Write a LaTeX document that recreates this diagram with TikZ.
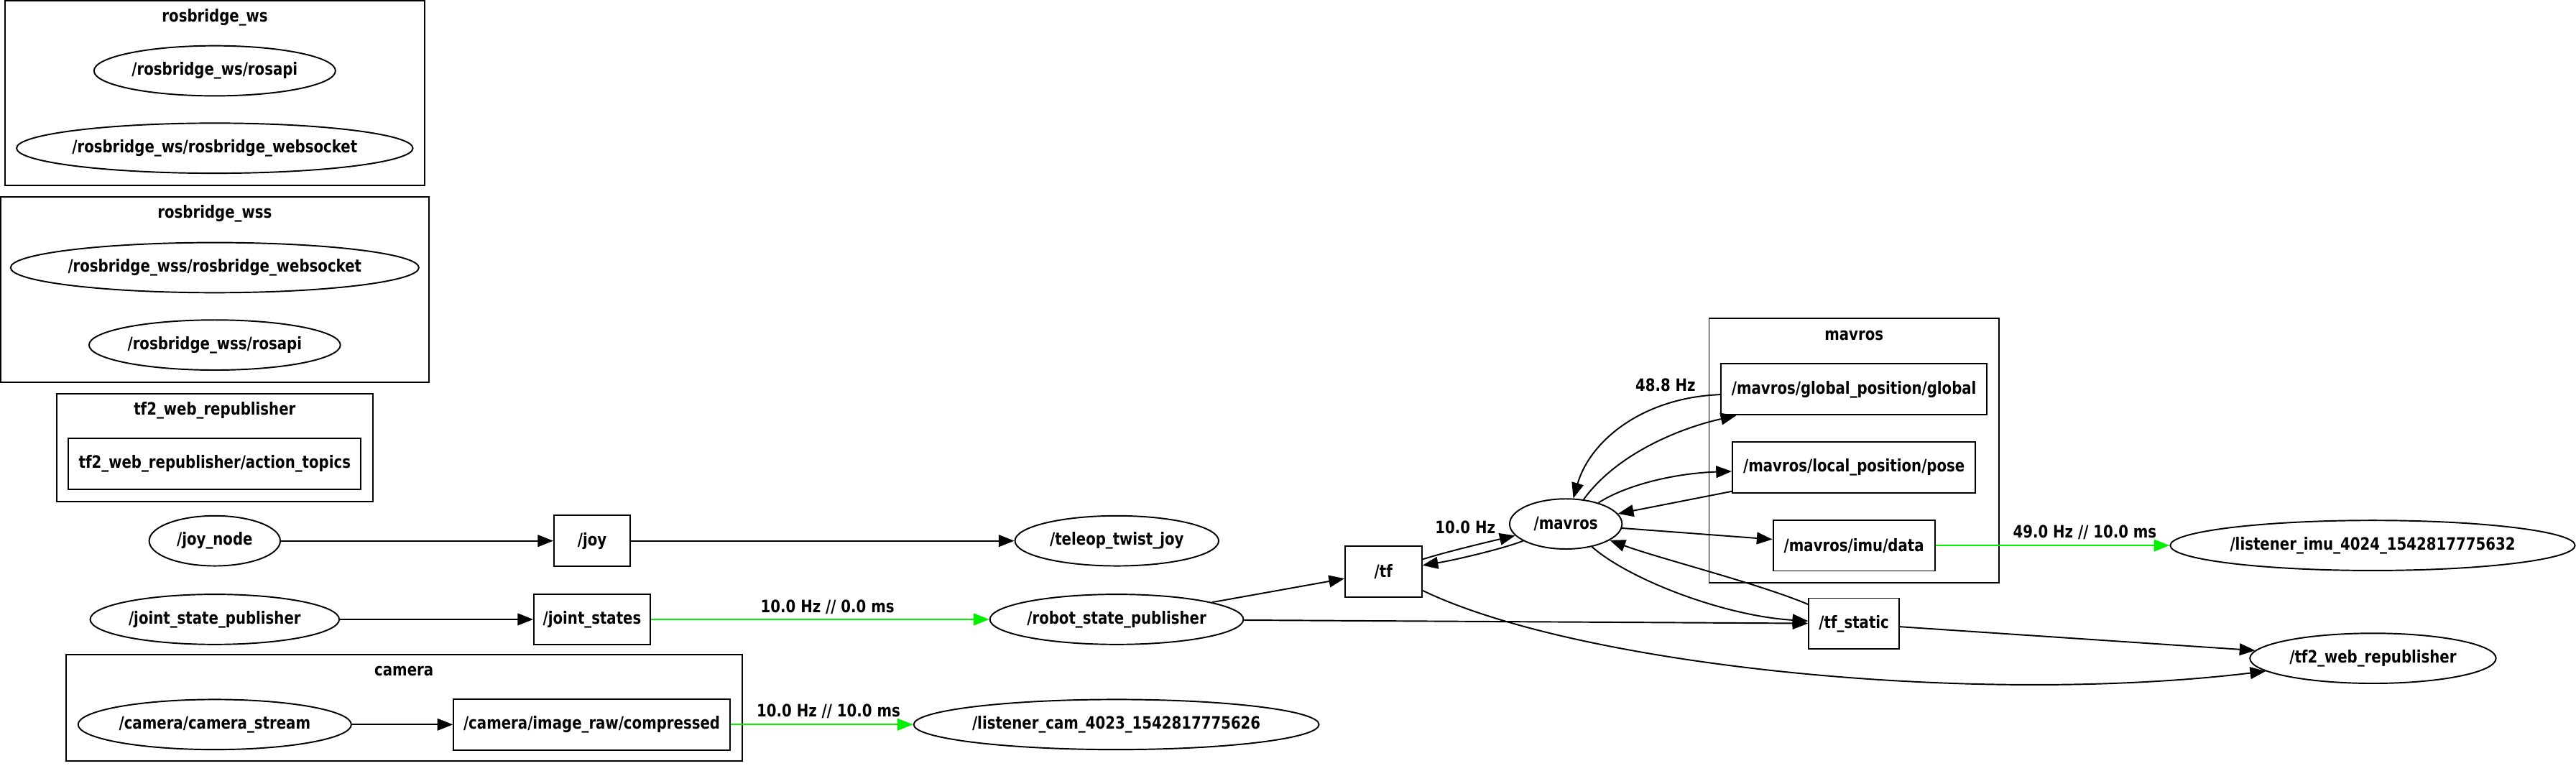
\documentclass[tikz,border=0pt]{standalone}
\usepackage{fontspec}
\setmainfont{DejaVu Sans}[FakeStretch=0.83]
\usetikzlibrary{shapes.geometric,arrows.meta}
\definecolor{rosgreen}{RGB}{0,240,0}
\begin{document}
\begin{tikzpicture}[x=1pt,y=-1pt,
  every node/.style={font=\fontsize{10.4pt}{12pt}\selectfont\bfseries},
  ell/.style={ellipse,draw,line width=0.85pt,minimum height=30.5pt,inner sep=0pt,inner xsep=-1.5pt},
  topic/.style={rectangle,draw,line width=0.85pt,minimum height=31pt,inner sep=0pt},
  clus/.style={draw,line width=0.85pt},
  edge/.style={line width=0.85pt,-{Triangle[length=9.5pt,width=7.3pt]}},
  gedge/.style={edge,draw=rosgreen},
  lbl/.style={inner sep=0pt}
]
\useasboundingbox (0,0) rectangle (1568,466);

% clusters and their nodes
\draw[clus] (3.1,0.3) rectangle (258.5,112.7);
\node[lbl] (lws) at (130.8,10.5) {rosbridge\_ws};
\node[ell,minimum width=147pt] (wsapi) at (130.7,43.1) {/rosbridge\_ws/rosapi};
\node[ell,minimum width=240.7pt] (wssock) at (130.7,90.2) {/rosbridge\_ws/rosbridge\_websocket};

\draw[clus] (0.4,120) rectangle (261,232.7);
\node[lbl] (lwss) at (130.7,130) {rosbridge\_wss};
\node[ell,minimum width=245.9pt] (wsssock) at (130.7,162.9) {/rosbridge\_wss/rosbridge\_websocket};
\node[ell,minimum width=153pt] (wssapi) at (130.7,210) {/rosbridge\_wss/rosapi};

\draw[clus] (34.4,239.8) rectangle (227,305.1);
\node[lbl] (ltf2) at (130.7,250) {tf2\_web\_republisher};
\node[topic,minimum width=178pt] (actt) at (130.7,282.3) {tf2\_web\_republisher/action\_topics};

% joy row
\node[ell,minimum width=79.8pt] (joynode) at (130.7,329.2) {/joy\_node};
\node[topic,minimum width=46.4pt] (joy) at (360.4,329.2) {/joy};
\node[ell,minimum width=124pt] (teleop) at (679.8,329.2) {/teleop\_twist\_joy};

% joint row
\node[ell,minimum width=151.6pt] (jsp) at (130.7,377) {/joint\_state\_publisher};
\node[topic,minimum width=70.8pt] (js) at (360.4,377) {/joint\_states};
\node[ell,minimum width=154.3pt] (rsp) at (679.7,377) {/robot\_state\_publisher};

% camera
\draw[clus] (40.2,398.5) rectangle (451.6,463.2);
\node[lbl] (lcamc) at (245.9,408.4) {camera};
\node[ell,minimum width=166.3pt] (camst) at (130.7,441) {/camera/camera\_stream};
\node[topic,minimum width=168.2pt] (comp) at (360.2,441) {/camera/image\_raw/compressed};
\node[ell,minimum width=246.7pt] (lcam) at (679.5,441) {/listener\_cam\_4023\_1542817775626};

% right part
\node[topic,minimum width=46.6pt] (tf) at (842.1,347.9) {/tf};
\node[ell,minimum width=68.4pt] (mavros) at (953.1,318.9) {/mavros};
\draw[clus] (1040.3,193.7) rectangle (1216.8,354.9);
\node[lbl] (lmav) at (1128.5,204.3) {mavros};
\node[topic,minimum width=162pt] (glob) at (1128.5,237) {/mavros/global\_position/global};
\node[topic,minimum width=148pt] (loc) at (1128.5,284.5) {/mavros/local\_position/pose};
\node[topic,minimum width=98.5pt] (imu) at (1128.5,332) {/mavros/imu/data};
\node[topic,minimum width=55pt] (tfs) at (1128.5,379.6) {/tf\_static};
\node[ell,minimum width=246.4pt] (limu) at (1444.2,332) {/listener\_imu\_4024\_1542817775632};
\node[ell,minimum width=149.8pt] (tfweb) at (1444.4,400.7) {/tf2\_web\_republisher};

% edges
\draw[edge] (joynode) -- (joy);
\draw[edge] (joy) -- (teleop);
\draw[edge] (jsp) -- (js);
\draw[gedge] (js) -- (rsp);
\node[lbl] (l1) at (503.7,369.5) {10.0 Hz // 0.0 ms};
\draw[edge] (camst) -- (comp);
\draw[gedge] (comp) -- (lcam);
\node[lbl] (l2) at (504.3,433) {10.0 Hz // 10.0 ms};
\draw[edge] (rsp) -- (tf);
\draw[edge] (rsp) -- (tfs);
\draw[edge] (tf) .. controls (880,336) and (905,330) .. (mavros);
\node[lbl] (l3) at (891.9,320.9) {10.0 Hz};
\draw[edge] (mavros) .. controls (915,334) and (885,341) .. (tf);
\draw[edge] (tf) .. controls (960,405) and (1200,430) .. (tfweb);
\draw[edge] (mavros) .. controls (992,353) and (1050,375) .. (tfs);
\draw[edge] (tfs) .. controls (1070,355) and (1010,340) .. (mavros);
\draw[edge] (glob) .. controls (1000,242) and (968,268) .. (mavros);
\node[lbl] (l4) at (1013.8,234.4) {48.8 Hz};
\draw[edge] (mavros) .. controls (985,275) and (1025,260) .. (glob);
\draw[edge] (mavros) .. controls (990,295) and (1020,288) .. (loc);
\draw[edge] (loc) -- (mavros);
\draw[edge] (mavros) -- (imu);
\draw[gedge] (imu) -- (limu);
\node[lbl] (l5) at (1269,323.9) {49.0 Hz // 10.0 ms};
\draw[edge] (tfs) -- (tfweb);
\end{tikzpicture}
\end{document}
